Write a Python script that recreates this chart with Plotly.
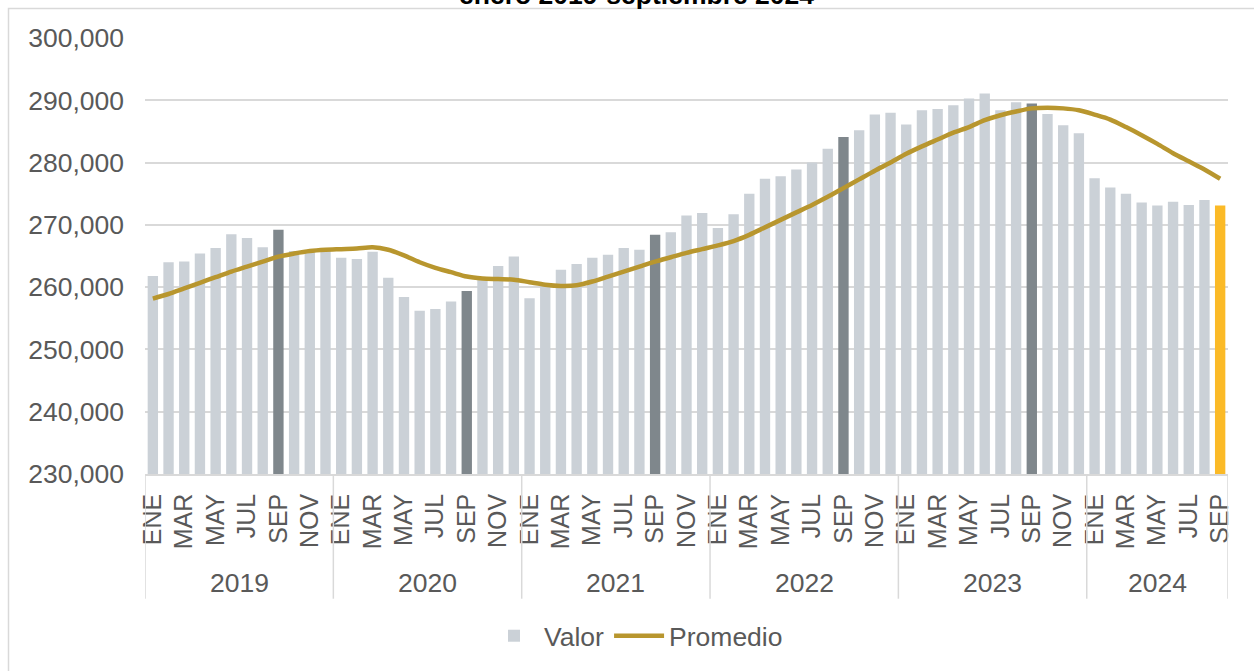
import plotly.graph_objects as go

# ---------------- data ----------------
years = ["2019", "2020", "2021", "2022", "2023", "2024"]
month_names = ["ENE", "FEB", "MAR", "ABR", "MAY", "JUN", "JUL", "AGO", "SEP", "OCT", "NOV", "DIC"]

valor_2019 = [261800, 264000, 264100, 265400, 266300, 268500, 267900, 266400, 269200, 265800, 265600, 266000]
valor_2020 = [264700, 264500, 265700, 261500, 258400, 256200, 256500, 257700, 259400, 261200, 263400, 264900]
valor_2021 = [258200, 260300, 262800, 263700, 264700, 265200, 266300, 266000, 268400, 268800, 271500, 271900]
valor_2022 = [269500, 271700, 275000, 277400, 277800, 278900, 280000, 282200, 284100, 285200, 287700, 288000]
valor_2023 = [286100, 288400, 288600, 289200, 290300, 291100, 288400, 289700, 289500, 287800, 286000, 284700]
valor_2024 = [277500, 276000, 275000, 273600, 273100, 273700, 273200, 274000, 273100]

prom_2019 = [258160, 258900, 259800, 260700, 261600, 262500, 263300, 264100, 264900, 265400, 265800, 266000]
prom_2020 = [266100, 266200, 266400, 266000, 265100, 264000, 263100, 262400, 261700, 261400, 261300, 261200]
prom_2021 = [260800, 260400, 260200, 260300, 260900, 261700, 262500, 263300, 264100, 264800, 265500, 266100]
prom_2022 = [266700, 267400, 268400, 269600, 270800, 272000, 273200, 274500, 275900, 277300, 278700, 280000]
prom_2023 = [281400, 282600, 283700, 284800, 285700, 286800, 287600, 288200, 288700, 288800, 288700, 288400]
prom_2024 = [287700, 286900, 285700, 284400, 283000, 281500, 280200, 278900, 277400]

title_text = "enero 2019-septiembre 2024"

# ---------------- build ----------------
valor_by_year = [valor_2019, valor_2020, valor_2021, valor_2022, valor_2023, valor_2024]
prom_by_year = [prom_2019, prom_2020, prom_2021, prom_2022, prom_2023, prom_2024]

valor, promedio, month_lab, year_lab = [], [], [], []
for y, vals, proms in zip(years, valor_by_year, prom_by_year):
    for i, (v, p) in enumerate(zip(vals, proms)):
        valor.append(v)
        promedio.append(p)
        month_lab.append(month_names[i])
        year_lab.append(y)

n = len(valor)
xs = list(range(n))

LIGHT = "#CBD1D7"
DARK = "#7F878C"
YELLOW = "#FBBA27"
GOLD = "#B8962E"
TXT = "#595959"
GRID = "#D9D9D9"

colors = []
for i in range(n):
    if i == n - 1:
        colors.append(YELLOW)
    elif month_lab[i] == "SEP":
        colors.append(DARK)
    else:
        colors.append(LIGHT)

fig = go.Figure()
fig.add_trace(go.Bar(x=xs, y=valor, name="Valor", marker=dict(color=colors, line=dict(width=0))))
fig.add_trace(go.Scatter(x=xs, y=promedio, name="Promedio", mode="lines",
                         line=dict(color=GOLD, width=4.5, shape="spline", smoothing=0.8)))

tickvals = [i for i in range(n) if month_names.index(month_lab[i]) % 2 == 0]
ticktext = [month_lab[i] for i in tickvals]

FONT = "Liberation Sans, Arial, sans-serif"
FS = 26.5

# plot area in pixels: x 145..1228, y 38..475
L, R, T, B = 145, 1254 - 1228, 38, 671 - 475
PW, PH = 1254 - L - R, 671 - T - B

def px_to_paper_y(py):
    return (475 - py) / PH

def px_to_paper_x(px):
    return (px - L) / PW

shapes = []
annotations = []
start = 0
bounds = [-0.5]
for y in years:
    cnt = year_lab.count(y)
    bounds.append(start + cnt - 0.5)
    annotations.append(dict(x=start + (cnt - 1) / 2, y=px_to_paper_y(584), xref="x", yref="paper",
                            text=y, showarrow=False, font=dict(size=FS, color=TXT, family=FONT),
                            yanchor="middle", xanchor="center"))
    start += cnt
for b in bounds:
    shapes.append(dict(type="line", xref="x", yref="paper", x0=b, x1=b, y0=0, y1=px_to_paper_y(600),
                       line=dict(color=GRID, width=1.5)))
# outer chart border
shapes.append(dict(type="rect", xref="paper", yref="paper",
                   x0=px_to_paper_x(8.5), x1=px_to_paper_x(1265),
                   y0=px_to_paper_y(690), y1=px_to_paper_y(8.5),
                   line=dict(color=GRID, width=1.5), fillcolor="rgba(0,0,0,0)", layer="below"))
# title (partly cut off at top, as in the reference)
annotations.append(dict(x=px_to_paper_x(636), y=px_to_paper_y(-5), xref="paper", yref="paper",
                        text="<b>" + title_text + "</b>", showarrow=False,
                        font=dict(size=FS, color="#000000", family=FONT),
                        xanchor="center", yanchor="middle"))

fig.update_layout(
    width=1254, height=671,
    margin=dict(l=L, r=R, t=T, b=B),
    paper_bgcolor="white", plot_bgcolor="white",
    bargap=0.34,
    font=dict(family=FONT, size=FS, color=TXT),
    showlegend=True,
    legend=dict(orientation="h", x=px_to_paper_x(636), xanchor="center", y=px_to_paper_y(636),
                yanchor="middle", font=dict(size=FS, color=TXT), itemwidth=50,
                bgcolor="rgba(0,0,0,0)", traceorder="normal"),
    shapes=shapes, annotations=annotations,
)
fig.update_xaxes(range=[-0.5, n - 0.5], tickmode="array", tickvals=tickvals, ticktext=ticktext,
                 tickangle=-90, tickfont=dict(size=25, color=TXT, family=FONT),
                 showgrid=False, showline=True, linecolor=GRID, linewidth=1.5, ticks="",
                 zeroline=False, fixedrange=True, ticklabelstandoff=8)
fig.update_yaxes(range=[230000, 300000], dtick=10000, tickformat=",", showgrid=True, gridcolor=GRID,
                 gridwidth=1.5, zeroline=False, showline=False, ticks="",
                 tickfont=dict(size=FS, color=TXT, family=FONT), ticklabelstandoff=20)

fig.write_html("out.html", config={"displayModeBar": False},
               post_script="document.body.style.margin='0px';")
